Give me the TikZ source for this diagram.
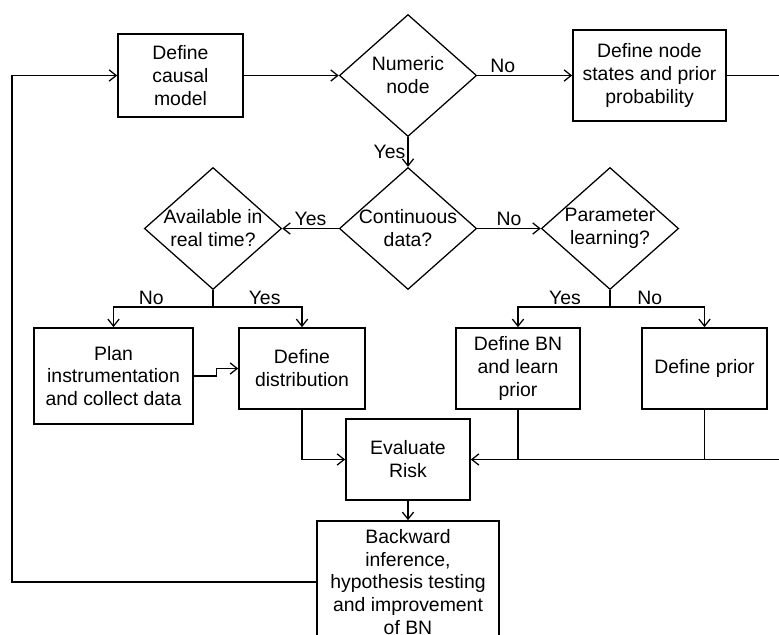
\documentclass[tikz,border=0pt]{standalone}
\usepackage{fontspec}
\setmainfont{Liberation Sans}
\usetikzlibrary{shapes.geometric,arrows.meta}

\begin{document}
\begin{tikzpicture}[x=0.025cm, y=-0.025cm,
    every node/.style={font=\fontsize{13.8}{16.3}\selectfont},
    caja/.style={draw, line width=1.2pt, align=center, inner sep=0pt},
    rombo/.style={draw, diamond, aspect=1.12, line width=0.9pt, align=center,
        inner sep=-8pt, minimum width=3.43cm, minimum height=3.05cm},
    linea/.style={line width=0.9pt},
    flecha/.style={linea, -{Straight Barb[length=5pt,width=8pt]}},
    etiqueta/.style={inner sep=1.5pt}]

\useasboundingbox (0,0) rectangle (779,634);
\clip (0,0) rectangle (779,634);

% Nodos
\node[caja, minimum width=3.125cm, minimum height=2.075cm] (modelo) at (180.5,75.5) {Define\\causal\\model};
\node[rombo] (numerico) at (408,75.5) {Numeric\\node};
\node[caja, minimum width=3.825cm, minimum height=2.275cm] (estados) at (649.5,75.5) {Define node\\states and prior\\probability};

\node[rombo] (continuo) at (408,228.5) {Continuous\\data?};
\node[rombo] (disponible) at (213,228.5) {Available in\\real time?};
\node[rombo] (parametros) at (610,228.5) {Parameter\\learning?};

\node[caja, minimum width=3.975cm, minimum height=2.4cm] (plan) at (113.5,376) {Plan\\instrumentation\\and collect data};
\node[caja, minimum width=3.15cm, minimum height=2.025cm] (distribucion) at (302,368.5) {Define\\distribution};
\node[caja, minimum width=3.1cm, minimum height=2.025cm] (defbn) at (518,368.5) {Define BN\\and learn\\prior};
\node[caja, minimum width=3.125cm, minimum height=2.025cm] (prior) at (704.5,368.5) {Define prior};

\node[caja, minimum width=3.1cm, minimum height=2.025cm] (evaluar) at (408,459.5) {Evaluate\\Risk};
\node[caja, minimum width=4.55cm, minimum height=3.05cm] (inferencia) at (408,582) {Backward\\inference,\\hypothesis testing\\and improvement\\of BN};

% Conexiones principales
\coordinate (izq) at (12,582);
\draw[flecha] (inferencia.west) -- (izq) |- (modelo.west);
\draw[flecha] (modelo.east) -- (numerico.west);
\draw[flecha] (numerico.east) -- node[etiqueta, pos=0.27, above] (no1) {No} (estados.west);
\draw[flecha] (numerico.south) -- node[etiqueta, left] (si1) {Yes} (continuo.north);
\draw[flecha] (continuo.west) -- node[etiqueta, above] (si2) {Yes} (disponible.east);
\draw[flecha] (continuo.east) -- node[etiqueta, above] (no2) {No} (parametros.west);

% Ramas
\coordinate (rama1) at (213,307);
\draw[linea] (disponible.south) -- (rama1);
\draw[flecha] (rama1) -| node[etiqueta, pos=0.31, above] (no3) {No} (plan.north);
\draw[flecha] (rama1) -| node[etiqueta, pos=0.29, above] (si3) {Yes} (distribucion.north);

\coordinate (rama2) at (610,307);
\draw[linea] (parametros.south) -- (rama2);
\draw[flecha] (rama2) -| node[etiqueta, pos=0.245, above] (si4) {Yes} (defbn.north);
\draw[flecha] (rama2) -| node[etiqueta, pos=0.21, above] (no4) {No} (prior.north);

% Hacia evaluar
\draw[flecha] (plan.east) -- ++(23,0) |- (distribucion.west);
\draw[flecha] (distribucion.south) |- (evaluar.west);
\coordinate (der) at (790,75.5);
\draw[flecha] (estados.east) -- (der) |- (evaluar.east);
\draw[linea] (defbn.south) -- (defbn.south |- evaluar.east);
\draw[linea] (prior.south) -- (prior.south |- evaluar.east);
\draw[flecha] (evaluar.south) -- (inferencia.north);

\end{tikzpicture}
\end{document}
